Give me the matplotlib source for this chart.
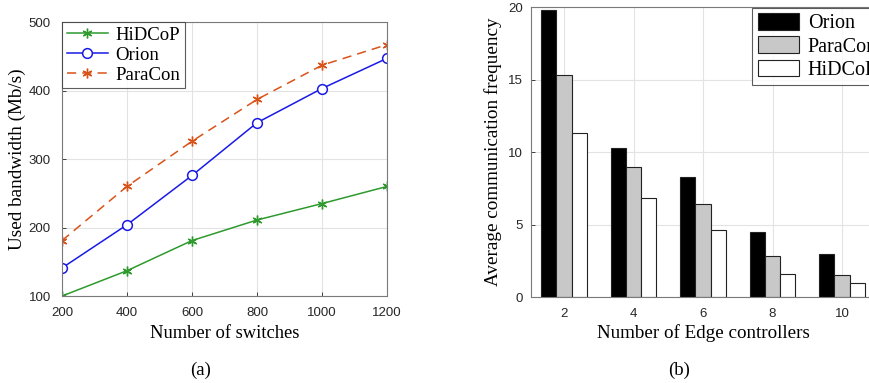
import matplotlib.pyplot as plt
import numpy as np

# panel (a) data
switches = [200, 400, 600, 800, 1000, 1200]
hidcop_bw = [100, 137, 181, 211, 235, 260]
orion_bw = [141, 204, 276, 353, 403, 447]
paracon_bw = [181, 260, 326, 387, 437, 467]

# panel (b) data
controllers = [2, 4, 6, 8, 10]
orion_freq = [19.8, 10.3, 8.25, 4.5, 3.0]
paracon_freq = [15.3, 9.0, 6.45, 2.85, 1.5]
hidcop_freq = [11.3, 6.85, 4.6, 1.6, 1.0]

serif = "Liberation Serif"
sans = "Liberation Sans"
tick_col = "#262626"
grid_col = "#e3e3e3"
asterisk = (6, 2, 0)

fig = plt.figure(figsize=(8.69, 3.83), dpi=100)

# ---- (a) ----
ax1 = fig.add_axes([0.0713, 0.227, 0.374, 0.7154])
ax1.plot(switches, hidcop_bw, color="#2e9a2e", marker=asterisk, markersize=7, mew=1.0, lw=1.1, label="HiDCoP")
ax1.plot(switches, orion_bw, color="#1a1ae6", marker="o", markersize=7, mfc="white", mew=1.1, lw=1.1, label="Orion")
ax1.plot(switches, paracon_bw, color="#D95319", marker=asterisk, markersize=7, mew=1.0, lw=1.1,
         ls=(0, (6, 4)), label="ParaCon")
ax1.set_xlim(200, 1200)
ax1.set_ylim(100, 500)
ax1.set_xticks(switches)
ax1.set_yticks([100, 200, 300, 400, 500])
ax1.grid(True, color=grid_col, lw=0.8)
ax1.set_axisbelow(True)
ax1.set_xlabel("Number of switches", family=serif, fontsize=13.3, labelpad=4)
ax1.set_ylabel("Used bandwidth (Mb/s)", family=serif, fontsize=13.8, labelpad=2)
leg1 = ax1.legend(loc="upper left", prop={"family": serif, "size": 13.5}, fancybox=False,
                  edgecolor="#333333", borderaxespad=0.0, handlelength=2.2,
                  borderpad=0.25, labelspacing=0.15, handletextpad=0.4)
leg1.get_frame().set_linewidth(0.8)

# ---- (b) ----
ax2 = fig.add_axes([0.611, 0.2245, 0.398, 0.757])
x = np.array(controllers)
w = 0.44
ax2.bar(x - w, orion_freq, w, color="black", edgecolor="#222222", lw=0.8, label="Orion")
ax2.bar(x, paracon_freq, w, color="#c8c8c8", edgecolor="#222222", lw=0.8, label="ParaCon")
ax2.bar(x + w, hidcop_freq, w, color="white", edgecolor="#222222", lw=0.8, label="HiDCoP")
ax2.set_xlim(1.05, 11)
ax2.set_ylim(0, 20)
ax2.set_xticks(controllers)
ax2.set_yticks([0, 5, 10, 15, 20])
ax2.grid(True, color=grid_col, lw=0.8)
ax2.set_axisbelow(True)
ax2.set_xlabel("Number of Edge controllers", family=serif, fontsize=13.7, labelpad=3)
ax2.set_ylabel("Average communication frequency", family=serif, fontsize=13.8, labelpad=4)
leg2 = ax2.legend(loc="upper right", bbox_to_anchor=(1.018, 1.0), prop={"family": serif, "size": 14.5},
                  fancybox=False, edgecolor="#333333", borderaxespad=0.05, handlelength=2.05,
                  handleheight=0.9, borderpad=0.25, labelspacing=0.15, handletextpad=0.45)
leg2.get_frame().set_linewidth(0.8)

for ax, ypad in ((ax1, 8), (ax2, 6)):
    ax.tick_params(direction="in", length=3, colors=tick_col, labelsize=9.5, width=0.6)
    ax.tick_params(axis="x", pad=8)
    ax.tick_params(axis="y", pad=ypad)
    for lab in ax.get_xticklabels() + ax.get_yticklabels():
        lab.set_family(sans)
    for s in ax.spines.values():
        s.set_color("#7a7a7a")
        s.set_linewidth(0.8)

fig.text(0.231, 0.022, "(a)", family=serif, fontsize=13.5, ha="center")
fig.text(0.782, 0.022, "(b)", family=serif, fontsize=13.5, ha="center")

fig.savefig("out.png", dpi=100)
